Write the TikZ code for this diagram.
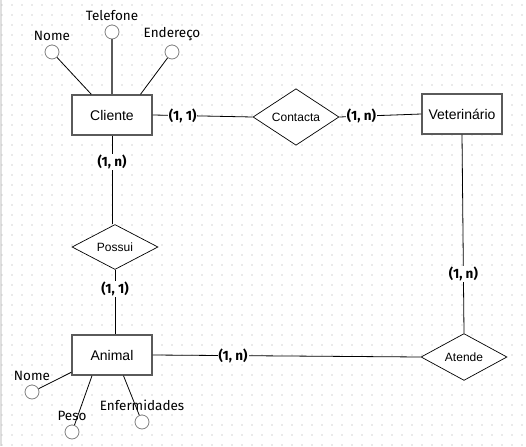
\documentclass[tikz,border=0pt]{standalone}
\usepackage{fontspec}
\setmainfont{Liberation Sans}
\newfontfamily\attrfont{Fira Sans}
\usepackage{xcolor}
\usetikzlibrary{shapes.geometric, positioning}

\definecolor{gridgray}{HTML}{A8A8A8}
\definecolor{edgegray}{HTML}{5A5A5A}

\begin{document}
\begin{tikzpicture}[
  x=1pt, y=-1pt,
  entity/.style={rectangle, draw=edgegray, line width=1.4pt, fill=white,
                 minimum width=80pt, minimum height=40pt, font=\fontsize{14}{16}\selectfont},
  relation/.style={diamond, draw, line width=0.7pt, fill=white, inner sep=0pt,
                   minimum width=86pt, minimum height=45pt, font=\fontsize{12}{14}\selectfont},
  attr/.style={circle, draw=gray, line width=0.8pt, fill=white, minimum size=14pt,
               inner sep=0pt, label distance=-1.5pt},
  attrlabel/.style={font=\attrfont\fontsize{13.5}{15}\selectfont},
  card/.style={fill=white, inner sep=1pt, font=\attrfont\bfseries\fontsize{13.5}{15}\selectfont},
  conn/.style={line width=0.8pt}
]
  \useasboundingbox (0,0) rectangle (526,446);
  % dotted background
  \fill[white] (0,0) rectangle (526,446);
  \fill[gray!25] (0,0) rectangle (2,446);
  \foreach \gx in {2,12,...,522} {
    \foreach \gy in {5,15,...,445} {
      \fill[gridgray] (\gx,\gy) circle (0.55);
    }
  }

  % entities and relations
  \node[entity] (cli) at (112,115) {Cliente};
  \node[entity] (vet) at (462,114) {Veterinário};
  \node[entity] (ani) at (112,355) {Animal};
  \node[relation] (contacta) at (296,117) {Contacta};
  \node[relation] (possui) at (115,247) {Possui};
  \node[relation] (atende) at (464,357) {Atende};

  % attributes of Cliente
  \node[attr, label={[attrlabel]above:Nome}] (cnome) at (52,52) {};
  \node[attr, label={[attrlabel]above:Telefone}] (ctel) at (112,32) {};
  \node[attr, label={[attrlabel]above:Endereço}] (cend) at (172,52) {};
  % attributes of Animal
  \node[attr, label={[attrlabel]above:Nome}] (anome) at (32,392) {};
  \node[attr, label={[attrlabel]above:Peso}] (apeso) at (72,432) {};
  \node[attr, label={[attrlabel]above:Enfermidades}] (aenf) at (142,422) {};

  \draw[conn] (cnome) -- (cli.135);
  \draw[conn, edgegray, line width=1.3pt] (ctel) -- (cli.north);
  \draw[conn] (cend) -- (cli.36);
  \draw[conn] (anome) -- (ani.203);
  \draw[conn] (apeso) -- (ani.226);
  \draw[conn] (aenf) -- (ani.299);

  % relationships
  \draw[conn] (cli.east) -- node[card, pos=0.3] {(1, 1)} (contacta.west);
  \draw[conn] (contacta.east) -- node[card, pos=0.27] {(1, n)} (vet.west);
  \draw[conn] (cli.south) -- node[card, pos=0.3] {(1, n)} (cli.south |- possui.north);
  \draw[conn] (possui.south) -- node[card, pos=0.3] {(1, 1)} (possui.south |- ani.north);
  \draw[conn] (ani.east) -- node[card, pos=0.3] {(1, n)} (atende.west);
  \draw[conn] (vet.south) -- node[card, pos=0.7] {(1, n)} (atende.north);
\end{tikzpicture}
\end{document}
